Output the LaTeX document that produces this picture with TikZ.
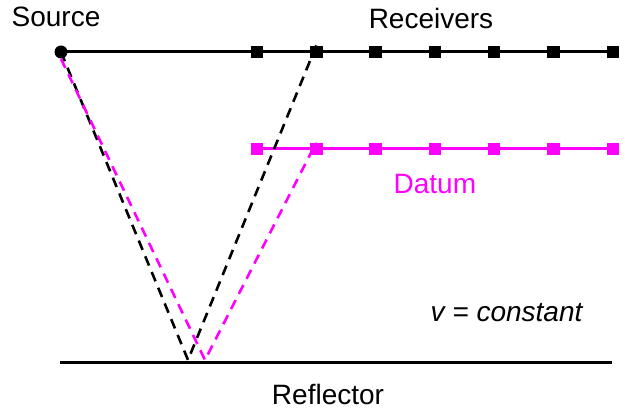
\documentclass[tikz,border=0pt]{standalone}
\usepackage{fontspec}
\setmainfont{Liberation Sans}
\usetikzlibrary{positioning}
\definecolor{datumpink}{RGB}{255,0,255}

\begin{document}
\begin{tikzpicture}[x=0.5pt,y=-0.5pt,font=\fontsize{14}{16}\selectfont,
                    rcv/.style={rectangle, fill, inner sep=0pt, minimum size=6.2pt},
                    src/.style={circle, fill, inner sep=0pt, minimum size=6.5pt},
                    ray/.style={line width=1.3pt, dash pattern=on 5pt off 3.5pt}]
  \useasboundingbox (0,0) rectangle (625,411);
  % Nodes
  \node[src] (src) at (61,52) {};
  \foreach \i in {1,...,7} {
    \node[rcv] (rcv\i) at ({257+59.3*(\i-1)},52) {};
    \node[rcv, datumpink] (dat\i) at ({257+59.3*(\i-1)},149) {};
  }
  \coordinate (reflA) at (60,362);
  \coordinate (reflB) at (612,362);
  \coordinate (bounceK) at (188,360);
  \coordinate (bounceM) at (205,360);

  % Edges
  \draw[line width=1.5pt] (src.center) -- (rcv7.center);
  \draw[line width=1.5pt, datumpink] (dat1.center) -- (dat7.center);
  \draw[line width=1.5pt] (reflA) -- (reflB);
  \draw[ray] (src.center) -- (bounceK) -- (rcv2.north);
  \draw[ray, datumpink] (src.south) -- (bounceM) -- (dat2.north);

  % Labels
  \node (srclbl) at (56,17) {Source};
  \node (rcvlbl) at (431,18) {Receivers};
  \node[datumpink, below=6pt of dat4] (datlbl) {Datum};
  \node (vlbl) at (507,313) {\textit{v = constant}};
  \node (refllbl) at (328,394) {Reflector};
\end{tikzpicture}
\end{document}
